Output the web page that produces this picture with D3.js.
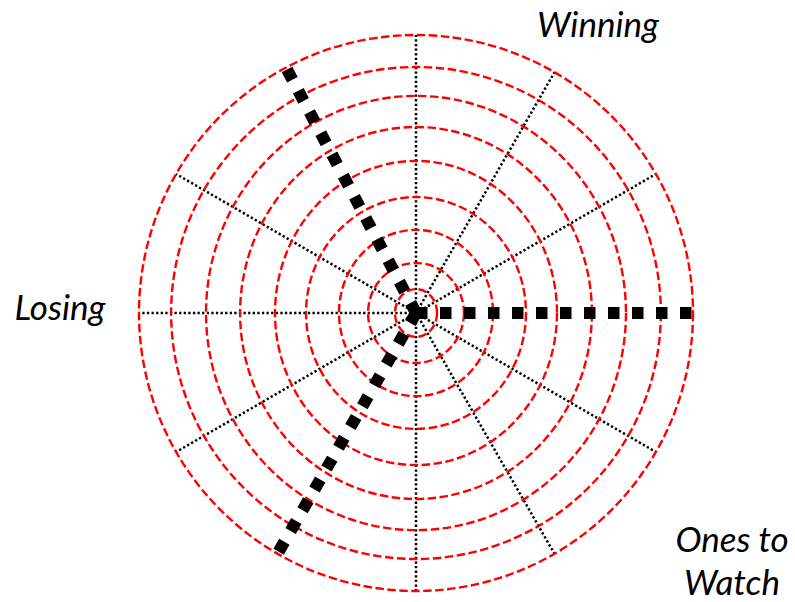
<!DOCTYPE html>
<html>
<head>
<meta charset="utf-8">
<script src="https://cdn.jsdelivr.net/npm/d3@7"></script>
<style>
  html, body { margin: 0; padding: 0; background: #fff; }
  svg { display: block; }
</style>
</head>
<body>
<svg id="chart" width="795" height="602"></svg>
<script>
// Ring sizes as a fraction of the outer ring (horizontal and vertical half-axes)
const ringsX = [0.076, 0.173, 0.278, 0.397, 0.509, 0.635, 0.758, 0.884, 1.0];
const ringsY = [0.086, 0.180, 0.299, 0.417, 0.547, 0.669, 0.781, 0.885, 1.0];
// Dotted spokes (degrees, counter-clockwise from the right)
const spokeAngles = [30, 60, 90, 150, 180, 210, 270, 300, 330];
// Thick dashed pointers (degrees) and their length as a fraction of the outer ring
const pointerAngles = [0, 118, 240];
const pointerLengths = [1.0, 1.01, 1.01];
// Quadrant labels (one entry per text line)
const labelTexts = ["Winning", "Losing", "Ones to", "Watch"];

const svg = d3.select("#chart");
const cx = 416, cy = 313;
const rx = d3.scaleLinear().domain([0, 1]).range([0, 277]);
const ry = d3.scaleLinear().domain([0, 1]).range([0, 278]);
const rad = d => d * Math.PI / 180;

const g = svg.append("g").attr("transform", `translate(${cx},${cy})`);

// spokes
g.selectAll("line.spoke").data(spokeAngles).join("line")
  .attr("class", "spoke")
  .attr("x1", 0).attr("y1", 0)
  .attr("x2", a => rx(1) * Math.cos(rad(a)))
  .attr("y2", a => -ry(1) * Math.sin(rad(a)))
  .attr("stroke", "#000")
  .attr("stroke-width", 2.5)
  .attr("stroke-dasharray", "2.3,2.3");

// rings
g.selectAll("ellipse.ring").data(d3.range(ringsX.length)).join("ellipse")
  .attr("class", "ring")
  .attr("cx", 0).attr("cy", 0)
  .attr("rx", i => rx(ringsX[i]))
  .attr("ry", i => ry(ringsY[i]))
  .attr("fill", "none")
  .attr("stroke", "#ff0000")
  .attr("stroke-width", 2.4)
  .attr("stroke-dasharray", "8.5,3.5");

// thick pointers
g.selectAll("line.pointer").data(d3.range(pointerAngles.length)).join("line")
  .attr("class", "pointer")
  .attr("x1", 0).attr("y1", 0)
  .attr("x2", i => rx(pointerLengths[i]) * Math.cos(rad(pointerAngles[i])))
  .attr("y2", i => -ry(pointerLengths[i]) * Math.sin(rad(pointerAngles[i])))
  .attr("stroke", "#000")
  .attr("stroke-width", 12)
  .attr("stroke-dasharray", "11.5,12.5");

// labels
const labelPos = [
  { x: 598, y: 37 },
  { x: 60, y: 320 },
  { x: 732, y: 552 },
  { x: 732, y: 595 }
];
svg.selectAll("text.label").data(labelTexts).join("text")
  .attr("class", "label")
  .attr("x", (d, i) => labelPos[i].x)
  .attr("y", (d, i) => labelPos[i].y)
  .attr("text-anchor", "middle")
  .attr("font-family", "Lato, sans-serif")
  .attr("font-style", "italic")
  .attr("font-size", 35)
  .attr("fill", "#000")
  .text(d => d);
</script>
</body>
</html>
